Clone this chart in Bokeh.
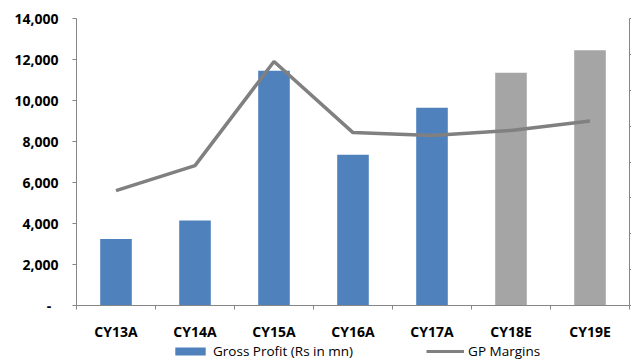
from bokeh.plotting import figure
from bokeh.layouts import column
from bokeh.models import (ColumnDataSource, Range1d, LinearAxis, FixedTicker,
                          CustomJSTickFormatter, Legend, LegendItem)
from bokeh.embed import file_html
from bokeh.resources import INLINE

# ---- data ----
categories = ["CY13A", "CY14A", "CY15A", "CY16A", "CY17A", "CY18E", "CY19E"]
gross_profit = [3250, 4150, 11450, 7350, 9650, 11350, 12450]   # Rs in mn
gp_margin = [16.0, 19.5, 34.0, 24.1, 23.7, 24.4, 25.7]          # %, right axis (labels cut off)
y_ticks = [0, 2000, 4000, 6000, 8000, 10000, 12000, 14000]
margin_ticks = [0, 5, 10, 15, 20, 25, 30, 35, 40]
series_names = ["Gross Profit (Rs in mn)", "GP Margins"]

BLUE = "#4F81BD"
GREY_BAR = "#A5A5A5"
LINE = "#808080"
AXIS = "#868686"
FONT = "Open Sans"

xs = [i + 0.5 for i in range(len(categories))]
is_est = [c.endswith("E") for c in categories]

act = ColumnDataSource(dict(x=[x for x, e in zip(xs, is_est) if not e],
                            y=[v for v, e in zip(gross_profit, is_est) if not e]))
est = ColumnDataSource(dict(x=[x for x, e in zip(xs, is_est) if e],
                            y=[v for v, e in zip(gross_profit, is_est) if e]))
line_src = ColumnDataSource(dict(x=xs, y=gp_margin))

p = figure(width=631, height=343, output_backend="svg", toolbar_location=None,
           x_range=Range1d(0, len(categories)), y_range=Range1d(y_ticks[0], y_ticks[-1]),
           min_border_left=76, min_border_top=18, min_border_right=1, min_border_bottom=35)
p.extra_y_ranges = {"m": Range1d(margin_ticks[0], margin_ticks[-1])}
p.outline_line_color = None
p.xgrid.visible = False
p.ygrid.visible = False
p.background_fill_color = "white"
p.border_fill_color = "white"

p.vbar(x="x", top="y", width=0.4, source=act, fill_color=BLUE, line_color=None)
p.vbar(x="x", top="y", width=0.4, source=est, fill_color=GREY_BAR, line_color=None)
p.line(x="x", y="y", source=line_src, y_range_name="m", line_color=LINE, line_width=3.5)

# x axis
xa = p.xaxis[0]
xa.ticker = FixedTicker(ticks=xs, minor_ticks=list(range(len(categories) + 1)))
xa.formatter = CustomJSTickFormatter(args=dict(cats=categories),
                                     code="return cats[Math.floor(tick)];")
xa.major_tick_out = 0
xa.major_tick_in = 0
xa.minor_tick_out = 4
xa.minor_tick_in = 0
xa.axis_line_color = AXIS
xa.minor_tick_line_color = AXIS
xa.major_label_text_font = FONT
xa.major_label_text_font_style = "bold"
xa.major_label_text_font_size = "14px"
xa.major_label_text_color = "black"
xa.major_label_standoff = 12

# left y axis
ya = p.yaxis[0]
ya.ticker = FixedTicker(ticks=y_ticks)
ya.formatter = CustomJSTickFormatter(
    code="return tick == 0 ? '-\u00a0\u00a0' : tick.toLocaleString('en-US');")
ya.major_tick_out = 4
ya.major_tick_in = 0
ya.minor_tick_out = 0
ya.minor_tick_in = 0
ya.axis_line_color = AXIS
ya.major_tick_line_color = AXIS
ya.major_label_text_font = FONT
ya.major_label_text_font_style = "bold"
ya.major_label_text_font_size = "14px"
ya.major_label_text_color = "black"
ya.major_label_standoff = 14

# right axis (labels cut off in reference)
ra = LinearAxis(y_range_name="m", ticker=FixedTicker(ticks=margin_ticks),
                formatter=CustomJSTickFormatter(code="return '';"))
ra.major_label_standoff = 0
ra.major_tick_out = 2
ra.major_tick_in = 0
ra.minor_tick_out = 0
ra.minor_tick_in = 0
ra.axis_line_color = AXIS
ra.major_tick_line_color = AXIS
p.add_layout(ra, "right")

# legend strip below the chart (proxy glyphs sit outside the visible range)
lg = figure(width=631, height=17, output_backend="svg", toolbar_location=None,
            x_axis_location=None, y_axis_location=None,
            x_range=Range1d(0, 1), y_range=Range1d(0, 1),
            min_border_left=0, min_border_right=0, min_border_top=0, min_border_bottom=0)
lg.outline_line_color = None
lg.xgrid.visible = False
lg.ygrid.visible = False
lg_bar = lg.vbar(x=[-5], top=[-5], width=0.4, fill_color=BLUE, line_color=None)
lg_line = lg.line(x=[-5, -4], y=[-5, -5], line_color=LINE, line_width=3)
legend = Legend(items=[LegendItem(label=series_names[0], renderers=[lg_bar]),
                       LegendItem(label=series_names[1], renderers=[lg_line])],
                orientation="horizontal", location=(95, 0))
legend.label_text_font = FONT
legend.label_text_font_size = "13.5px"
legend.label_text_color = "black"
legend.glyph_width = 38
legend.glyph_height = 10
legend.label_height = 14
legend.label_standoff = 4
legend.spacing = 73
legend.padding = 0
legend.margin = 0
legend.border_line_color = None
legend.background_fill_alpha = 0
lg.add_layout(legend, "center")

page = column(p, lg, spacing=0)
open("out.html", "w").write(file_html(page, INLINE))
